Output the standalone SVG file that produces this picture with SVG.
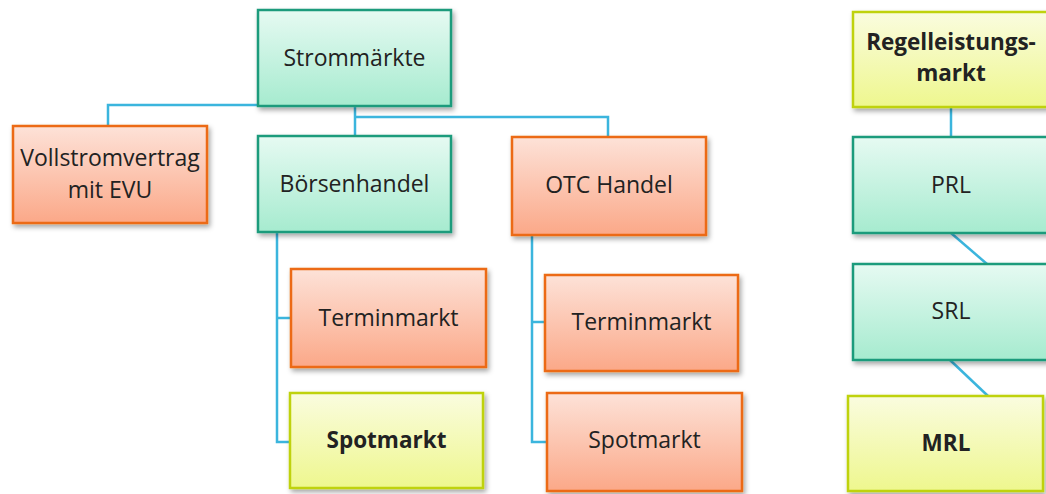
<svg xmlns="http://www.w3.org/2000/svg" width="1046" height="494" viewBox="0 0 1046 494">
  <defs>
    <linearGradient id="gGreen" x1="0" y1="0" x2="0" y2="1">
      <stop offset="0" stop-color="#e6faf2"/>
      <stop offset="1" stop-color="#a6ebcf"/>
    </linearGradient>
    <linearGradient id="gOrange" x1="0" y1="0" x2="0" y2="1">
      <stop offset="0" stop-color="#fde2d8"/>
      <stop offset="1" stop-color="#fba888"/>
    </linearGradient>
    <linearGradient id="gYellow" x1="0" y1="0" x2="0" y2="1">
      <stop offset="0" stop-color="#fafcdf"/>
      <stop offset="1" stop-color="#eef78e"/>
    </linearGradient>
    <filter id="shadow" x="-10%" y="-10%" width="125%" height="130%">
      <feDropShadow dx="2" dy="3" stdDeviation="2.5" flood-color="#000" flood-opacity="0.35"/>
    </filter>
  </defs>
  <style>
    .box { stroke-width: 2.5; filter: url(#shadow); }
    .green { fill: url(#gGreen); stroke: #1d9b7b; }
    .orange { fill: url(#gOrange); stroke: #ec6b12; }
    .yellow { fill: url(#gYellow); stroke: #bfd20e; }
    text { font-family: "Open Sans", "Liberation Sans", sans-serif; font-size: 23px; fill: #222; text-anchor: middle; }
    .bold { font-weight: bold; font-size: 22.5px; }
    .link { fill: none; stroke: #3bb5dd; stroke-width: 2.5; }
  </style>
  <rect width="1046" height="494" fill="#ffffff"/>

  <!-- connectors -->
  <g id="connectors">
    <polyline class="link" points="355,106 355,105 108,105 108,126"/>
    <line class="link" x1="355" y1="106" x2="355" y2="136"/>
    <polyline class="link" points="355,117 608,117 608,137"/>
    <polyline class="link" points="277,232 277,442 290,442"/>
    <line class="link" x1="277" y1="318" x2="291" y2="318"/>
    <polyline class="link" points="532,235 532,442 547,442"/>
    <line class="link" x1="532" y1="322" x2="545" y2="322"/>
    <line class="link" x1="951" y1="107" x2="951" y2="137"/>
    <line class="link" x1="951" y1="233" x2="987" y2="264"/>
    <line class="link" x1="950" y1="360" x2="988" y2="396"/>
  </g>

  <g id="strommaerkte">
    <rect class="box green" x="258" y="10" width="193" height="96"/>
    <text x="354.5" y="66">Strommärkte</text>
  </g>
  <g id="vollstromvertrag">
    <rect class="box orange" x="13" y="126" width="194" height="97"/>
    <text x="110" y="166">Vollstromvertrag</text>
    <text x="110" y="198">mit EVU</text>
  </g>
  <g id="boersenhandel">
    <rect class="box green" x="258" y="136" width="193" height="96"/>
    <text x="354.5" y="192">Börsenhandel</text>
  </g>
  <g id="otc-handel">
    <rect class="box orange" x="512" y="137" width="194" height="98"/>
    <text x="609" y="193">OTC Handel</text>
  </g>
  <g id="boerse-terminmarkt">
    <rect class="box orange" x="291" y="269" width="195" height="98"/>
    <text x="388.5" y="326">Terminmarkt</text>
  </g>
  <g id="boerse-spotmarkt">
    <rect class="box yellow" x="290" y="393" width="193" height="95"/>
    <text class="bold" x="386.5" y="448">Spotmarkt</text>
  </g>
  <g id="otc-terminmarkt">
    <rect class="box orange" x="545" y="275" width="193" height="96"/>
    <text x="641.5" y="330">Terminmarkt</text>
  </g>
  <g id="otc-spotmarkt">
    <rect class="box orange" x="547" y="393" width="195" height="98"/>
    <text x="644.5" y="448">Spotmarkt</text>
  </g>
  <g id="regelleistungsmarkt">
    <rect class="box yellow" x="853" y="12" width="196" height="95"/>
    <text class="bold" x="951" y="50">Regelleistungs-</text>
    <text class="bold" x="951" y="81">markt</text>
  </g>
  <g id="prl">
    <rect class="box green" x="853" y="137" width="196" height="96"/>
    <text x="951" y="193">PRL</text>
  </g>
  <g id="srl">
    <rect class="box green" x="853" y="264" width="196" height="96"/>
    <text x="951" y="319">SRL</text>
  </g>
  <g id="mrl">
    <rect class="box yellow" x="848" y="396" width="195" height="95"/>
    <text class="bold" x="946" y="451">MRL</text>
  </g>
</svg>
